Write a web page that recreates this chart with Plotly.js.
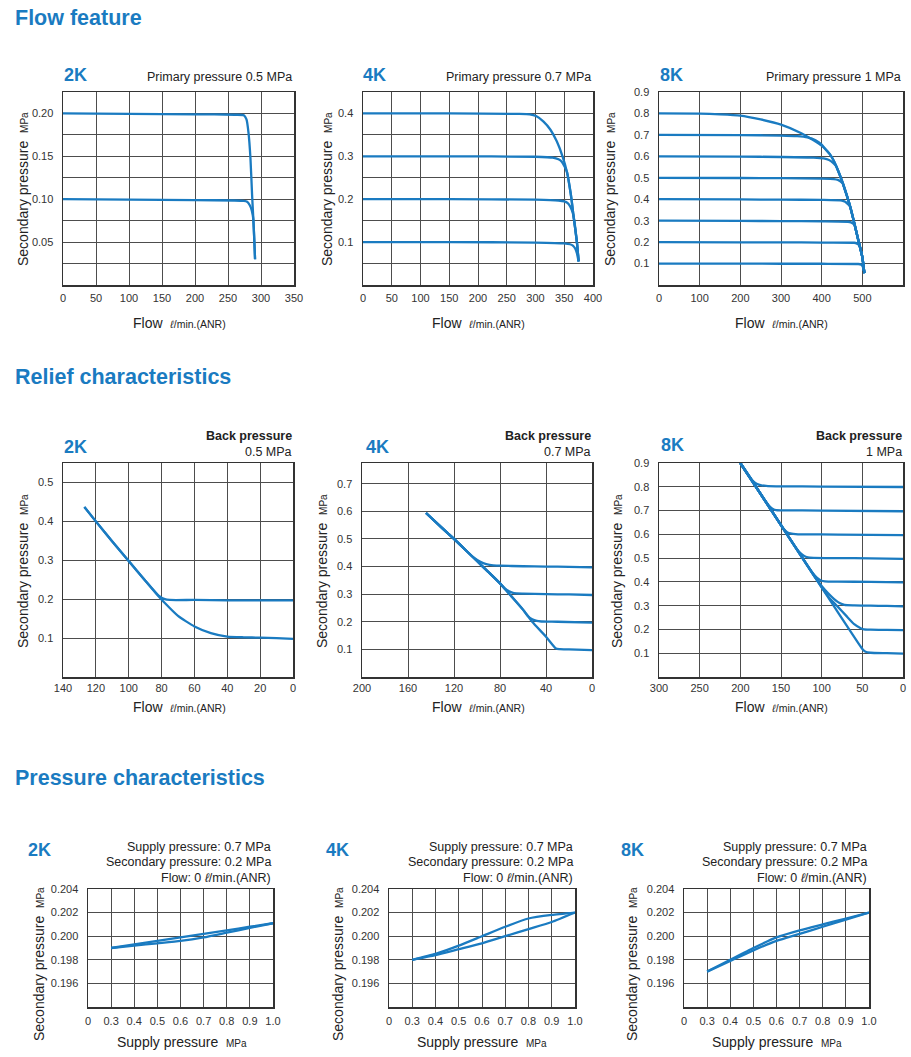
<!DOCTYPE html>
<html><head><meta charset="utf-8">
<script src="https://cdn.plot.ly/plotly-3.0.1.min.js"></script>
<style>html,body{margin:0;padding:0;background:#fff;}#chart{width:911px;height:1057px;}</style>
</head><body><div id="chart"></div>
<script>
// ================= DATA =================
// --- Flow feature 2K (primary 0.5 MPa) ---
const flow2k_a_x = [0, 100, 200, 260, 274, 278, 281, 284, 286.5, 288.3, 289.7, 291];
const flow2k_a_y = [0.200, 0.1995, 0.1990, 0.1985, 0.1980, 0.193, 0.178, 0.148, 0.105, 0.078, 0.055, 0.030];
const flow2k_b_x = [0, 100, 200, 260, 274, 279, 283, 286, 288.3, 289.7, 291];
const flow2k_b_y = [0.100, 0.0995, 0.099, 0.0985, 0.098, 0.097, 0.093, 0.087, 0.077, 0.055, 0.030];
// --- Flow feature 4K (primary 0.7 MPa) ---
const flow4k_04_x = [0, 150, 270, 290, 301, 314, 326, 337, 347, 355, 361, 364, 366, 372, 375];
const flow4k_04_y = [0.400, 0.400, 0.399, 0.398, 0.394, 0.381, 0.362, 0.335, 0.300, 0.262, 0.215, 0.185, 0.162, 0.100, 0.055];
const flow4k_03_x = [0, 150, 300, 330, 340, 346, 351, 355, 361, 364, 366, 372, 375];
const flow4k_03_y = [0.300, 0.300, 0.299, 0.297, 0.293, 0.287, 0.275, 0.262, 0.215, 0.185, 0.162, 0.100, 0.055];
const flow4k_02_x = [0, 150, 300, 340, 350, 356, 360, 363, 366, 372, 375];
const flow4k_02_y = [0.200, 0.200, 0.199, 0.197, 0.195, 0.191, 0.184, 0.175, 0.162, 0.100, 0.055];
const flow4k_01_x = [0, 150, 300, 350, 360, 365, 369, 372, 375];
const flow4k_01_y = [0.100, 0.100, 0.099, 0.097, 0.095, 0.092, 0.085, 0.074, 0.055];
// --- Flow feature 8K (primary 1 MPa) ---
const flow8k_08_x = [0, 100, 150, 200, 250, 300, 350, 380, 400, 410, 420, 430, 440, 450, 460, 470, 480, 490, 500, 505];
const flow8k_08_y = [0.800, 0.799, 0.796, 0.790, 0.772, 0.748, 0.708, 0.675, 0.650, 0.632, 0.610, 0.578, 0.535, 0.485, 0.428, 0.366, 0.290, 0.210, 0.130, 0.055];
const flow8k_07_x = [0, 200, 300, 340, 365, 385, 400, 410, 420, 430, 440, 450, 460, 470, 480, 490, 500, 505];
const flow8k_07_y = [0.700, 0.699, 0.697, 0.694, 0.688, 0.675, 0.655, 0.632, 0.610, 0.578, 0.535, 0.485, 0.428, 0.366, 0.290, 0.210, 0.130, 0.055];
const flow8k_06_x = [0, 200, 300, 380, 405, 418, 428, 435, 440, 450, 460, 470, 480, 490, 500, 505];
const flow8k_06_y = [0.600, 0.599, 0.597, 0.594, 0.590, 0.583, 0.570, 0.556, 0.535, 0.485, 0.428, 0.366, 0.290, 0.210, 0.130, 0.055];
const flow8k_05_x = [0, 200, 300, 400, 430, 440, 446, 452, 460, 470, 480, 490, 500, 505];
const flow8k_05_y = [0.500, 0.499, 0.498, 0.496, 0.494, 0.490, 0.483, 0.474, 0.428, 0.366, 0.290, 0.210, 0.130, 0.055];
const flow8k_04_x = [0, 200, 300, 400, 450, 458, 464, 470, 480, 490, 500, 505];
const flow8k_04_y = [0.400, 0.399, 0.398, 0.397, 0.394, 0.388, 0.378, 0.366, 0.290, 0.210, 0.130, 0.055];
const flow8k_03_x = [0, 200, 300, 400, 465, 472, 477, 481, 490, 500, 505];
const flow8k_03_y = [0.300, 0.299, 0.298, 0.297, 0.295, 0.292, 0.287, 0.280, 0.210, 0.130, 0.055];
const flow8k_02_x = [0, 200, 300, 400, 480, 486, 490, 493, 500, 505];
const flow8k_02_y = [0.200, 0.199, 0.199, 0.198, 0.197, 0.194, 0.189, 0.182, 0.130, 0.055];
const flow8k_01_x = [0, 200, 300, 400, 490, 496, 500, 503, 505];
const flow8k_01_y = [0.100, 0.100, 0.099, 0.099, 0.098, 0.096, 0.090, 0.075, 0.055];

// --- Relief 2K (back pressure 0.5 MPa) ---
const relief2k_a_x = [127, 120, 110, 100, 90, 82, 78, 75, 60, 40, 20, 0];
const relief2k_a_y = [0.437, 0.400, 0.348, 0.298, 0.248, 0.210, 0.200, 0.198, 0.198, 0.197, 0.197, 0.197];
const relief2k_b_x = [127, 120, 110, 100, 90, 84, 78, 70, 60, 50, 40, 30, 20, 10, 0];
const relief2k_b_y = [0.437, 0.400, 0.348, 0.298, 0.248, 0.218, 0.190, 0.157, 0.130, 0.113, 0.104, 0.102, 0.101, 0.100, 0.098];
// --- Relief 4K (back pressure 0.7 MPa) ---
const relief4k_04_x = [144.3, 130, 120, 110, 103, 97, 92, 86, 80, 60, 40, 20, 0];
const relief4k_04_y = [0.594, 0.538, 0.500, 0.460, 0.433, 0.417, 0.409, 0.404, 0.403, 0.401, 0.400, 0.399, 0.397];
const relief4k_03_x = [144.3, 130, 120, 110, 100, 90, 80, 76, 72, 68, 60, 40, 20, 0];
const relief4k_03_y = [0.594, 0.538, 0.500, 0.460, 0.420, 0.380, 0.339, 0.321, 0.310, 0.304, 0.302, 0.300, 0.299, 0.297];
const relief4k_02_x = [144.3, 130, 120, 110, 100, 90, 80, 70, 60, 56, 52, 48, 44, 30, 0];
const relief4k_02_y = [0.594, 0.538, 0.500, 0.460, 0.420, 0.380, 0.339, 0.292, 0.244, 0.222, 0.209, 0.203, 0.201, 0.200, 0.197];
const relief4k_01_x = [144.3, 130, 120, 110, 100, 90, 80, 70, 60, 52, 40, 31.3, 28, 20, 0];
const relief4k_01_y = [0.594, 0.538, 0.500, 0.460, 0.420, 0.380, 0.339, 0.292, 0.244, 0.200, 0.146, 0.103, 0.101, 0.100, 0.097];
// --- Relief 8K (back pressure 1 MPa) ---
const relief8k_08_x = [200, 190, 185, 180, 174, 166, 150, 100, 0];
const relief8k_08_y = [0.900, 0.848, 0.826, 0.813, 0.806, 0.803, 0.802, 0.801, 0.799];
const relief8k_07_x = [200, 186, 178, 170, 164, 160, 156, 150, 100, 0];
const relief8k_07_y = [0.900, 0.830, 0.786, 0.745, 0.718, 0.707, 0.702, 0.701, 0.700, 0.697];
const relief8k_06_x = [200, 160, 148, 142, 137, 132, 125, 80, 0];
const relief8k_06_y = [0.900, 0.691, 0.628, 0.608, 0.603, 0.601, 0.600, 0.599, 0.597];
const relief8k_05_x = [200, 150, 135, 128, 122, 117, 110, 80, 40, 0];
const relief8k_05_y = [0.900, 0.639, 0.560, 0.528, 0.510, 0.503, 0.501, 0.500, 0.499, 0.497];
const relief8k_04_x = [200, 150, 120, 112, 106, 101, 96, 80, 40, 0];
const relief8k_04_y = [0.900, 0.639, 0.482, 0.442, 0.418, 0.406, 0.402, 0.401, 0.400, 0.398];
const relief8k_03_x = [200, 150, 110, 100, 92, 85, 78, 72, 60, 40, 20, 0];
const relief8k_03_y = [0.900, 0.639, 0.429, 0.383, 0.352, 0.329, 0.311, 0.303, 0.301, 0.300, 0.299, 0.297];
const relief8k_02_x = [200, 150, 100, 90, 80, 70, 60, 52, 48, 40, 20, 0];
const relief8k_02_y = [0.900, 0.639, 0.377, 0.330, 0.295, 0.258, 0.222, 0.205, 0.200, 0.199, 0.198, 0.197];
const relief8k_01_x = [200, 150, 100, 55, 50, 46, 40, 20, 0];
const relief8k_01_y = [0.900, 0.639, 0.377, 0.142, 0.118, 0.106, 0.102, 0.100, 0.098];

// --- Pressure characteristics (supply 0.7, secondary 0.2, flow 0) ---
const press_x = [0.3, 0.4, 0.5, 0.6, 0.7, 0.8, 0.9, 1.0];
const press2k_up = [0.1990, 0.1993, 0.1996, 0.1999, 0.2002, 0.2005, 0.2008, 0.2011];
const press2k_dn = [0.1990, 0.1992, 0.1994, 0.1996, 0.1999, 0.2003, 0.2007, 0.2011];
const press4k_up = [0.1980, 0.1985, 0.1992, 0.2000, 0.2008, 0.2015, 0.2018, 0.2020];
const press4k_dn = [0.1980, 0.1984, 0.1989, 0.1994, 0.2000, 0.2006, 0.2012, 0.2020];
const press8k_up = [0.1970, 0.1980, 0.1990, 0.1999, 0.2005, 0.2010, 0.2015, 0.2020];
const press8k_dn = [0.1970, 0.1979, 0.1988, 0.1996, 0.2002, 0.2008, 0.2014, 0.2020];

// --- Tick values / labels ---
const flow2k_xticks = [0, 50, 100, 150, 200, 250, 300, 350];
const flow2k_yticks = [0, 0.025, 0.05, 0.075, 0.1, 0.125, 0.15, 0.175, 0.2, 0.225];
const flow2k_ylabels = ['', '', '0.05', '', '0.10', '', '0.15', '', '0.20', ''];
const flow4k_xticks = [0, 50, 100, 150, 200, 250, 300, 350, 400];
const flow4k_yticks = [0, 0.05, 0.1, 0.15, 0.2, 0.25, 0.3, 0.35, 0.4, 0.45];
const flow4k_ylabels = ['', '', '0.1', '', '0.2', '', '0.3', '', '0.4', ''];
const flow8k_xticks = [0, 100, 200, 300, 400, 500, 600];
const flow8k_yticks = [0, 0.1, 0.2, 0.3, 0.4, 0.5, 0.6, 0.7, 0.8, 0.9];
const flow8k_ylabels = ['', '0.1', '0.2', '0.3', '0.4', '0.5', '0.6', '0.7', '0.8', '0.9'];
const relief2k_xticks = [0, 20, 40, 60, 80, 100, 120, 140];
const relief2k_yticks = [0, 0.1, 0.2, 0.3, 0.4, 0.5];
const relief2k_ylabels = ['', '0.1', '0.2', '0.3', '0.4', '0.5'];
const relief4k_xticks = [0, 40, 80, 120, 160, 200];
const relief4k_yticks = [0, 0.1, 0.2, 0.3, 0.4, 0.5, 0.6, 0.7];
const relief4k_ylabels = ['', '0.1', '0.2', '0.3', '0.4', '0.5', '0.6', '0.7'];
const relief8k_xticks = [0, 50, 100, 150, 200, 250, 300];
const relief8k_yticks = [0, 0.1, 0.2, 0.3, 0.4, 0.5, 0.6, 0.7, 0.8, 0.9];
const relief8k_ylabels = ['', '0.1', '0.2', '0.3', '0.4', '0.5', '0.6', '0.7', '0.8', '0.9'];
const press_xticks = [0.2, 0.3, 0.4, 0.5, 0.6, 0.7, 0.8, 0.9, 1.0];
const press_xlabels = ['0', '0.3', '0.4', '0.5', '0.6', '0.7', '0.8', '0.9', '1.0'];
const press_yticks = [0.194, 0.196, 0.198, 0.200, 0.202, 0.204];
const press_ylabels = ['', '0.196', '0.198', '0.200', '0.202', '0.204'];

// ================= DRAWING =================
const W = 911, H = 1057;
const BLUE = '#1a7bc1';
const FONT = 'Liberation Sans, Arial, Helvetica, sans-serif';
const TXT = '#222';

const traces = [];
function add(n, x, y) {
  traces.push({
    x: x, y: y, xaxis: 'x' + n, yaxis: 'y' + n, mode: 'lines', hoverinfo: 'skip',
    line: {color: BLUE, width: 2.3, shape: 'spline', smoothing: 0.5}
  });
}
add(1, flow2k_a_x, flow2k_a_y); add(1, flow2k_b_x, flow2k_b_y);
add(2, flow4k_04_x, flow4k_04_y); add(2, flow4k_03_x, flow4k_03_y);
add(2, flow4k_02_x, flow4k_02_y); add(2, flow4k_01_x, flow4k_01_y);
add(3, flow8k_08_x, flow8k_08_y); add(3, flow8k_07_x, flow8k_07_y);
add(3, flow8k_06_x, flow8k_06_y); add(3, flow8k_05_x, flow8k_05_y);
add(3, flow8k_04_x, flow8k_04_y); add(3, flow8k_03_x, flow8k_03_y);
add(3, flow8k_02_x, flow8k_02_y); add(3, flow8k_01_x, flow8k_01_y);
add(4, relief2k_a_x, relief2k_a_y); add(4, relief2k_b_x, relief2k_b_y);
add(5, relief4k_04_x, relief4k_04_y); add(5, relief4k_03_x, relief4k_03_y);
add(5, relief4k_02_x, relief4k_02_y); add(5, relief4k_01_x, relief4k_01_y);
add(6, relief8k_08_x, relief8k_08_y); add(6, relief8k_07_x, relief8k_07_y);
add(6, relief8k_06_x, relief8k_06_y); add(6, relief8k_05_x, relief8k_05_y);
add(6, relief8k_04_x, relief8k_04_y); add(6, relief8k_03_x, relief8k_03_y);
add(6, relief8k_02_x, relief8k_02_y); add(6, relief8k_01_x, relief8k_01_y);
add(7, press_x, press2k_up); add(7, press_x, press2k_dn);
add(8, press_x, press4k_up); add(8, press_x, press4k_dn);
add(9, press_x, press8k_up); add(9, press_x, press8k_dn);

// plot boxes in pixels [left, right, top, bottom]
const boxes = {
  1: [63, 294, 92, 285], 2: [363, 593, 92, 285], 3: [659, 903, 92, 285],
  4: [63, 293, 463, 677], 5: [362, 592, 463, 677], 6: [659, 903, 463, 677],
  7: [88, 273, 889, 1007], 8: [389, 575, 889, 1007], 9: [684, 869, 889, 1007]
};
const xTickLen = {1: 2, 2: 2, 3: 2, 4: 0, 5: 0, 6: 0, 7: 3, 8: 3, 9: 3};
const axisSpec = {
  1: {xr: [0, 350], xt: flow2k_xticks, xl: flow2k_xticks.map(String), yr: [0, 0.225], yt: flow2k_yticks, yl: flow2k_ylabels},
  2: {xr: [0, 400], xt: flow4k_xticks, xl: flow4k_xticks.map(String), yr: [0, 0.45], yt: flow4k_yticks, yl: flow4k_ylabels},
  3: {xr: [0, 600], xt: flow8k_xticks, xl: flow8k_xticks.map(String), yr: [0, 0.9], yt: flow8k_yticks, yl: flow8k_ylabels},
  4: {xr: [140, 0], xt: relief2k_xticks, xl: relief2k_xticks.map(String), yr: [0, 0.55], yt: relief2k_yticks, yl: relief2k_ylabels},
  5: {xr: [200, 0], xt: relief4k_xticks, xl: relief4k_xticks.map(String), yr: [0, 0.775], yt: relief4k_yticks, yl: relief4k_ylabels},
  6: {xr: [300, 0], xt: relief8k_xticks, xl: relief8k_xticks.map(String), yr: [0, 0.9], yt: relief8k_yticks, yl: relief8k_ylabels},
  7: {xr: [0.2, 1.0], xt: press_xticks, xl: press_xlabels, yr: [0.194, 0.204], yt: press_yticks, yl: press_ylabels},
  8: {xr: [0.2, 1.0], xt: press_xticks, xl: press_xlabels, yr: [0.194, 0.204], yt: press_yticks, yl: press_ylabels},
  9: {xr: [0.2, 1.0], xt: press_xticks, xl: press_xlabels, yr: [0.194, 0.204], yt: press_yticks, yl: press_ylabels}
};

const layout = {
  width: W, height: H, margin: {l: 0, r: 0, t: 0, b: 0},
  paper_bgcolor: '#fff', plot_bgcolor: '#fff', showlegend: false,
  font: {family: FONT, color: TXT, size: 11},
  annotations: []
};
const common = {
  showgrid: true, gridcolor: '#4d4d4d', gridwidth: 1, zeroline: false,
  showline: true, linecolor: '#333', linewidth: 1.5, mirror: true,
  ticks: 'outside', ticklen: 6, tickcolor: 'rgba(0,0,0,0)',
  tickfont: {family: FONT, size: 11, color: '#333'}, fixedrange: true, tickmode: 'array'
};
for (let n = 1; n <= 9; n++) {
  const b = boxes[n], s = axisSpec[n];
  layout['xaxis' + n] = Object.assign({}, common, {
    domain: [b[0] / W, b[1] / W], anchor: 'y' + n, range: s.xr, tickvals: s.xt, ticktext: s.xl,
    ticklen: xTickLen[n]
  });
  layout['yaxis' + n] = Object.assign({}, common, {
    domain: [1 - b[3] / H, 1 - b[2] / H], anchor: 'x' + n, range: s.yr, tickvals: s.yt, ticktext: s.yl
  });
}

function ann(text, px, py, o) {
  layout.annotations.push(Object.assign({
    text: text, x: px / W, y: 1 - py / H, xref: 'paper', yref: 'paper',
    showarrow: false, xanchor: 'left', yanchor: 'middle',
    font: {family: FONT, size: 12.5, color: TXT}
  }, o || {}));
}
const headFont = {family: FONT, size: 21.5, color: BLUE};
ann('<b>Flow feature</b>', 13, 18, {font: headFont});
ann('<b>Relief characteristics</b>', 13, 377, {font: headFont});
ann('<b>Pressure characteristics</b>', 13, 778, {font: headFont});

const labFont = {family: FONT, size: 18, color: BLUE};
// flow row
ann('<b>2K</b>', 62, 75, {font: labFont});
ann('<b>4K</b>', 361, 75, {font: labFont});
ann('<b>8K</b>', 658, 75, {font: labFont});
ann('Primary pressure 0.5 MPa', 294, 77, {xanchor: 'right'});
ann('Primary pressure 0.7 MPa', 593, 77, {xanchor: 'right'});
ann('Primary pressure 1 MPa', 903, 77, {xanchor: 'right'});
// relief row
ann('<b>2K</b>', 62, 447, {font: labFont});
ann('<b>4K</b>', 364, 447, {font: labFont});
ann('<b>8K</b>', 659, 445, {font: labFont});
ann('<b>Back pressure</b>', 294, 436, {xanchor: 'right'});
ann('0.5 MPa', 294, 452, {xanchor: 'right'});
ann('<b>Back pressure</b>', 593, 436, {xanchor: 'right'});
ann('0.7 MPa', 593, 452, {xanchor: 'right'});
ann('<b>Back pressure</b>', 904, 436, {xanchor: 'right'});
ann('1 MPa', 904, 452, {xanchor: 'right'});
// pressure row
ann('<b>2K</b>', 26, 850, {font: labFont});
ann('<b>4K</b>', 324, 850, {font: labFont});
ann('<b>8K</b>', 619, 850, {font: labFont});
[[273], [575], [869]].forEach(function (r) {
  ann('Supply pressure: 0.7 MPa', r[0], 847, {xanchor: 'right'});
  ann('Secondary pressure: 0.2 MPa', r[0], 862, {xanchor: 'right'});
  ann('Flow: 0 <i>ℓ</i>/min.(ANR)', r[0], 878, {xanchor: 'right'});
});

// axis titles
const yTitle = 'Secondary pressure  <span style="font-size:10px">MPa</span>';
const xFlow = 'Flow  <span style="font-size:10.5px"><i>ℓ</i>/min.(ANR)</span>';
const xSupply = 'Supply pressure  <span style="font-size:10px">MPa</span>';
const tFont = {family: FONT, size: 14, color: TXT};
function yT(px, py) { ann(yTitle, px, py, {textangle: -90, xanchor: 'center', font: tFont}); }
function xT(text, px, py) { ann(text, px, py, {xanchor: 'center', font: tFont}); }
yT(23, 189); yT(327, 189); yT(610, 189);
yT(23, 571); yT(322, 571); yT(617, 571);
yT(39, 964); yT(338, 964); yT(632, 964);
xT(xFlow, 179, 323); xT(xFlow, 478, 323); xT(xFlow, 781, 323);
xT(xFlow, 179, 707); xT(xFlow, 478, 707); xT(xFlow, 781, 707);
xT(xSupply, 182, 1042); xT(xSupply, 482, 1042); xT(xSupply, 777, 1042);

Plotly.newPlot('chart', traces, layout, {staticPlot: true, displayModeBar: false});
</script>
</body></html>
